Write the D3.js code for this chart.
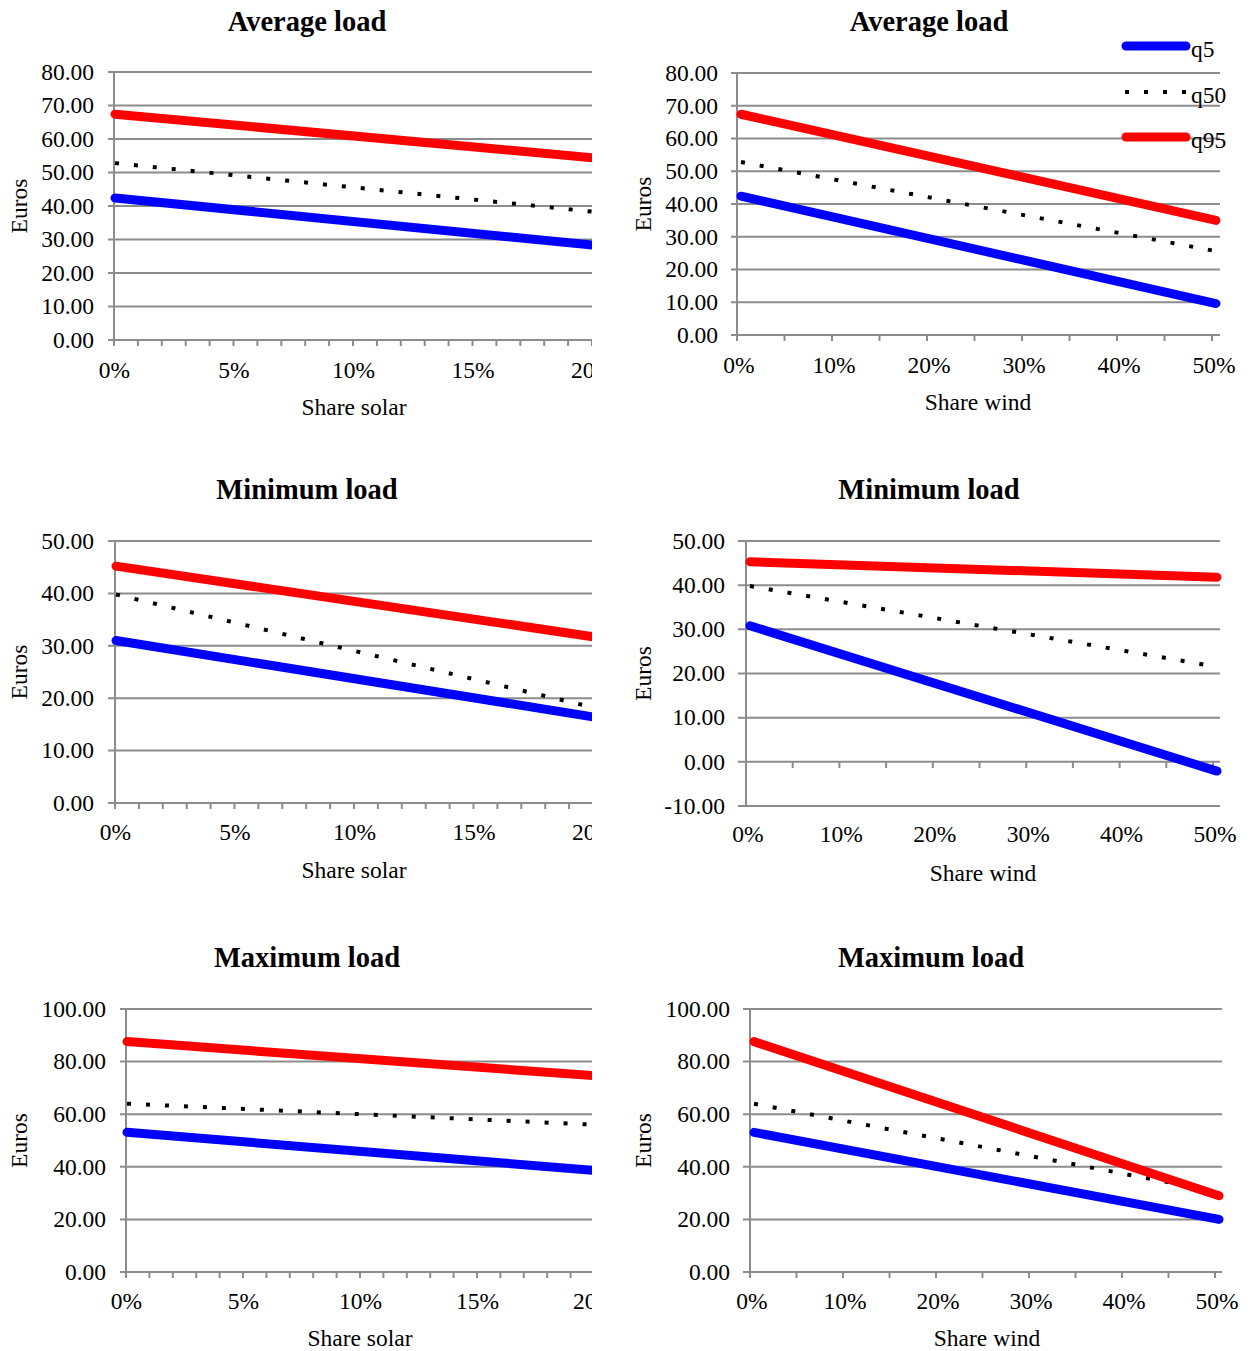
<!DOCTYPE html>
<html>
<head>
<meta charset="utf-8">
<script src="https://cdn.jsdelivr.net/npm/d3@7"></script>
<style>
  body { margin: 0; background: #fff; }
  text { font-family: "Liberation Serif", "Times New Roman", serif; fill: #000; }
</style>
</head>
<body>
<svg id="chart" width="1253" height="1351"></svg>
<script>
// ---- data ---------------------------------------------------------------
const seriesNames = ["q5", "q50", "q95"];

// fitted quantile lines: value at the lowest and highest share
const solarShare = [0, 0.20];
const windShare  = [0, 0.50];

const avgSolarQ5  = [42.4, 28.3];
const avgSolarQ50 = [52.8, 38.3];
const avgSolarQ95 = [67.4, 54.4];

const avgWindQ5  = [42.4, 9.6];
const avgWindQ50 = [52.8, 25.6];
const avgWindQ95 = [67.4, 35.0];

const minSolarQ5  = [31.0, 16.4];
const minSolarQ50 = [39.8, 18.2];
const minSolarQ95 = [45.2, 31.7];

const minWindQ5  = [30.8, -2.1];
const minWindQ50 = [39.8, 21.5];
const minWindQ95 = [45.3, 41.8];

const maxSolarQ5  = [53.1, 38.6];
const maxSolarQ50 = [64.0, 56.0];
const maxSolarQ95 = [87.6, 74.6];

const maxWindQ5  = [53.1, 20.0];
const maxWindQ50 = [64.0, 30.5];
const maxWindQ95 = [87.6, 29.0];

// tick labels
const solarTicks = [0, 0.05, 0.10, 0.15, 0.20];
const windTicks  = [0, 0.10, 0.20, 0.30, 0.40, 0.50];
const avgTicks   = [0, 10, 20, 30, 40, 50, 60, 70, 80];
const minSolarTicks = [0, 10, 20, 30, 40, 50];
const minWindTicks  = [-10, 0, 10, 20, 30, 40, 50];
const maxTicks   = [0, 20, 40, 60, 80, 100];

// ---- styles -------------------------------------------------------------
const styles = {
  q5:  { color: "#0000ff", width: 9, dash: null,   cap: "round" },
  q50: { color: "#000000", width: 4, dash: "4 15", cap: "butt"  },
  q95: { color: "#ff0000", width: 9, dash: null,   cap: "round" }
};
const gridColor = "#8c8c8c";
const labelSize = 23.5;
const titleSize = 28.5;

// ---- panel layout -------------------------------------------------------
const panels = [
  { title: "Average load", xlabel: "Share solar", share: solarShare, xmax: 0.20,
    vals: [avgSolarQ5, avgSolarQ50, avgSolarQ95], xt: solarTicks, minor: 0.01, yt: avgTicks,
    ax: 114, x0: 115, x1: 593, tick0: 114, tick1: 592, gl: 108, gr: 600, clip: 592,
    yb: 340, yt0: 0, ytop: 72, ytMax: 80, labR: 94, xLabY: 378, tX: 307, tY: 31,
    xtX: 354, xtY: 415, eX: 27, axisY: 340 },
  { title: "Average load", xlabel: "Share wind", share: windShare, xmax: 0.50,
    vals: [avgWindQ5, avgWindQ50, avgWindQ95], xt: windTicks, minor: 0.05, yt: avgTicks,
    ax: 737, x0: 741, x1: 1216, tick0: 737, tick1: 1212, gl: 731, gr: 1220, clip: null,
    yb: 335, yt0: 0, ytop: 73, ytMax: 80, labR: 718, xLabY: 373, tX: 929, tY: 31,
    xtX: 978, xtY: 410, eX: 651, axisY: 335, legend: true },
  { title: "Minimum load", xlabel: "Share solar", share: solarShare, xmax: 0.20,
    vals: [minSolarQ5, minSolarQ50, minSolarQ95], xt: solarTicks, minor: 0.01, yt: minSolarTicks,
    ax: 115, x0: 116, x1: 594, tick0: 115, tick1: 593, gl: 108, gr: 600, clip: 592,
    yb: 803, yt0: 0, ytop: 541, ytMax: 50, labR: 94, xLabY: 840, tX: 307, tY: 499,
    xtX: 354, xtY: 878, eX: 27, axisY: 803 },
  { title: "Minimum load", xlabel: "Share wind", share: windShare, xmax: 0.50,
    vals: [minWindQ5, minWindQ50, minWindQ95], xt: windTicks, minor: 0.05, yt: minWindTicks,
    ax: 746, x0: 750, x1: 1217, tick0: 746, tick1: 1213, gl: 738, gr: 1220, clip: null,
    yb: 806, yt0: -10, ytop: 541, ytMax: 50, labR: 725, xLabY: 842, tX: 929, tY: 499,
    xtX: 983, xtY: 881, eX: 651, axisY: 762 },
  { title: "Maximum load", xlabel: "Share solar", share: solarShare, xmax: 0.20,
    vals: [maxSolarQ5, maxSolarQ50, maxSolarQ95], xt: solarTicks, minor: 0.01, yt: maxTicks,
    ax: 126, x0: 127, x1: 595, tick0: 126, tick1: 594, gl: 120, gr: 600, clip: 592,
    yb: 1272, yt0: 0, ytop: 1009, ytMax: 100, labR: 106, xLabY: 1309, tX: 307, tY: 967,
    xtX: 360, xtY: 1346, eX: 27, axisY: 1272 },
  { title: "Maximum load", xlabel: "Share wind", share: windShare, xmax: 0.50,
    vals: [maxWindQ5, maxWindQ50, maxWindQ95], xt: windTicks, minor: 0.05, yt: maxTicks,
    ax: 750, x0: 754, x1: 1219, tick0: 750, tick1: 1215, gl: 743, gr: 1222, clip: null,
    yb: 1272, yt0: 0, ytop: 1009, ytMax: 100, labR: 730, xLabY: 1309, tX: 931, tY: 967,
    xtX: 987, xtY: 1346, eX: 651, axisY: 1272 }
];

// ---- drawing ------------------------------------------------------------
const svg = d3.select("#chart");
const defs = svg.append("defs");
const pctFmt = d3.format(".0%");
const numFmt = v => d3.format(".2f")(v).replace("\u2212", "-");

panels.forEach((p, i) => {
  let g = svg.append("g");
  if (p.clip) {
    defs.append("clipPath").attr("id", "clip" + i)
      .append("rect").attr("x", 0).attr("y", p.ytop - 60).attr("width", p.clip).attr("height", 500);
    g.attr("clip-path", `url(#clip${i})`);
  }

  const x = d3.scaleLinear().domain([0, p.xmax]).range([p.x0, p.x1]);
  const xt = d3.scaleLinear().domain([0, p.xmax]).range([p.tick0, p.tick1]);
  const y = d3.scaleLinear().domain([p.yt0, p.ytMax]).range([p.yb, p.ytop]);

  // title
  svg.append("text").attr("x", p.tX).attr("y", p.tY).attr("text-anchor", "middle")
    .attr("font-size", titleSize).attr("font-weight", "bold").text(p.title);

  // horizontal gridlines (with tick stubs left of the axis)
  g.selectAll(".grid").data(p.yt).join("line")
    .attr("x1", p.gl).attr("x2", p.gr)
    .attr("y1", d => y(d)).attr("y2", d => y(d))
    .attr("stroke", gridColor).attr("stroke-width", 2);

  // y tick labels
  svg.selectAll(null).data(p.yt).join("text")
    .attr("x", p.labR).attr("y", d => y(d)).attr("dy", "0.33em")
    .attr("text-anchor", "end").attr("font-size", labelSize).text(d => numFmt(d));

  // vertical axis line
  g.append("line").attr("x1", p.ax).attr("x2", p.ax)
    .attr("y1", p.ytop).attr("y2", p.yb + (p.axisY === p.yb ? 6 : 0))
    .attr("stroke", gridColor).attr("stroke-width", 2);

  // horizontal axis ticks
  const minorVals = d3.range(0, p.xmax + 1e-9, p.minor).map(v => +v.toFixed(4)).filter(v => v > 0);
  g.selectAll(".xtick").data(minorVals).join("line")
    .attr("x1", d => xt(d)).attr("x2", d => xt(d))
    .attr("y1", p.axisY).attr("y2", p.axisY + 6)
    .attr("stroke", gridColor).attr("stroke-width", 2);

  // x tick labels
  g.selectAll(".xlab").data(p.xt).join("text")
    .attr("x", d => (xt(d) + x(d)) / 2).attr("y", p.xLabY)
    .attr("text-anchor", "middle").attr("font-size", labelSize).text(d => pctFmt(d));

  // axis titles
  svg.append("text").attr("x", p.xtX).attr("y", p.xtY).attr("text-anchor", "middle")
    .attr("font-size", labelSize).text(p.xlabel);
  const ym = (p.ytop + p.yb) / 2;
  svg.append("text").attr("transform", `translate(${p.eX},${ym}) rotate(-90)`)
    .attr("text-anchor", "middle").attr("font-size", labelSize).text("Euros");

  // quantile lines
  const line = d3.line().x((d, k) => x(p.share[k])).y(d => y(d));
  seriesNames.forEach((name, k) => {
    const s = styles[name];
    g.append("path").datum(p.vals[k]).attr("d", line)
      .attr("fill", "none").attr("stroke", s.color).attr("stroke-width", s.width)
      .attr("stroke-linecap", s.cap).attr("stroke-dasharray", s.dash);
  });

  // legend
  if (p.legend) {
    const lg = svg.append("g");
    const rows = [46, 92, 137];
    seriesNames.forEach((name, k) => {
      const s = styles[name];
      lg.append("line").attr("x1", name === "q50" ? 1125 : 1126).attr("x2", name === "q50" ? 1189 : 1186)
        .attr("y1", rows[k]).attr("y2", rows[k])
        .attr("stroke", s.color).attr("stroke-width", s.width)
        .attr("stroke-linecap", s.cap).attr("stroke-dasharray", s.dash);
      lg.append("text").attr("x", 1191).attr("y", rows[k] + 11)
        .attr("font-size", labelSize).text(name);
    });
  }
});
</script>
</body>
</html>
